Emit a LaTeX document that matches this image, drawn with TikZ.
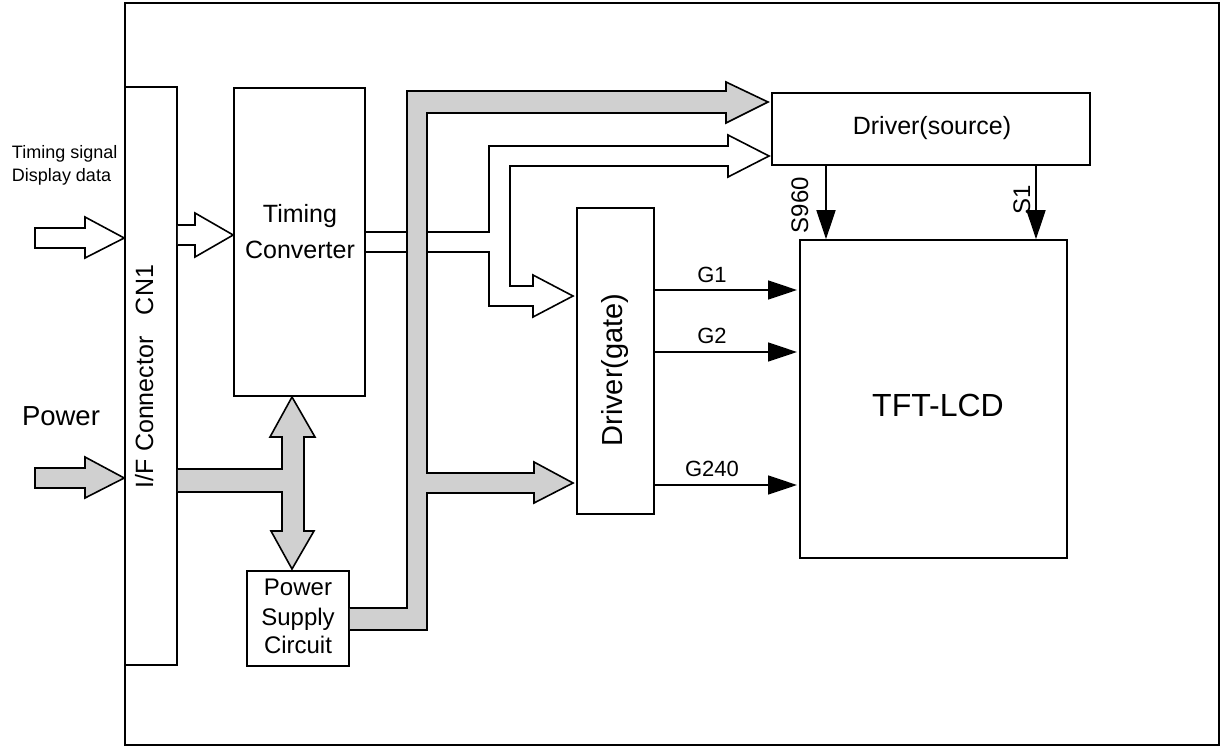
\documentclass[tikz,border=0pt]{standalone}
\usepackage{fontspec}
\setmainfont{Liberation Sans}
\usetikzlibrary{arrows.meta}
\definecolor{busgray}{RGB}{208,208,208}
\newcommand{\fsz}[2]{\fontsize{#1pt}{#2pt}\selectfont}
\tikzset{
  frame/.style={draw, line width=1.1pt},
  box/.style={draw, line width=1.6pt, inner sep=0pt, fill=white},
  bus/.style={fill=busgray, draw, line width=1.6pt, line join=miter},
  hollow/.style={fill=white, draw, line width=1.6pt, line join=miter},
  openline/.style={draw, line width=1.6pt, line join=miter},
  sig/.style={draw, line width=1.6pt, -{Triangle[length=29pt,width=19pt]}},
  txt/.style={inner sep=0pt, outer sep=0pt},
}
\begin{document}
\begin{tikzpicture}[x=1pt,y=-1pt]
\useasboundingbox (0,0) rectangle (1221,747);
% outer frame
\draw[frame] (125,3) rectangle (1219,745);
% boxes
\node[box, minimum width=52pt, minimum height=578pt] (ifc) at (151,376) {};
\node[box, minimum width=131pt, minimum height=308pt] (tc) at (299.5,242) {};
\node[box, minimum width=102pt, minimum height=95pt] (psc) at (298,618.5) {};
\node[box, minimum width=77pt, minimum height=306pt] (gate) at (615.5,361) {};
\node[box, minimum width=318pt, minimum height=72pt] (src) at (931,129) {};
\node[box, minimum width=267pt, minimum height=318pt] (tft) at (933.5,399) {};
% texts
\node[txt, anchor=base west] (t1) at (12,158) {\fsz{18}{22}Timing signal};
\node[txt, anchor=base west] (t2) at (12,181) {\fsz{18}{22}Display data};
\node[txt, anchor=base west] (pw) at (22,425) {\fsz{27.5}{32}Power};
\node[txt, anchor=base west, rotate=90] (ift) at (153,488) {\fsz{25}{30}I/F Connector};
\node[txt, anchor=base east, rotate=90] (cn1) at (153,265) {\fsz{25}{30}CN1};
\node[txt, anchor=base] (tc1) at (300,222) {\fsz{25}{30}Timing};
\node[txt, anchor=base] (tc2) at (300,258) {\fsz{25}{30}Converter};
\node[txt, anchor=base] (ps1) at (298,595) {\fsz{24}{29}Power};
\node[txt, anchor=base] (ps2) at (298,625) {\fsz{24}{29}Supply};
\node[txt, anchor=base] (ps3) at (298,653) {\fsz{24}{29}Circuit};
\node[txt, anchor=base] (srct) at (932,134) {\fsz{25}{30}Driver(source)};
\node[txt, rotate=90] (gatet) at (615,370) {\fsz{29}{34}Driver(gate)};
\node[txt] (tftt) at (938,405) {\fsz{32}{38}TFT-LCD};
\node[txt, anchor=base] (g1) at (712,282) {\fsz{22}{26}G1};
\node[txt, anchor=base] (g2) at (712,343) {\fsz{22}{26}G2};
\node[txt, anchor=base] (g240) at (712,476) {\fsz{22}{26}G240};
\node[txt, anchor=base, rotate=90] (s960) at (808,205) {\fsz{24}{28}S960};
\node[txt, anchor=base, rotate=90] (s1) at (1030,200) {\fsz{24}{28}S1};
% hollow input arrows
\draw[hollow] (35,228) -- (85,228) -- (85,217) -- (ifc.west |- 0,238) -- (85,258) -- (85,248) -- (35,248) -- cycle;
\draw[hollow] (ifc.east |- 0,225) -- (195,225) -- (195,213) -- (tc.west |- 0,235) -- (195,257) -- (195,245) -- (ifc.east |- 0,245);
% hollow signal lines to source and gate drivers
\draw[openline] (tc.east |- 0,232) -- (489,232) -- (489,146) -- (728,146) -- (728,135) -- (769,156) -- (728,177) -- (728,166) -- (510,166) -- (510,286) -- (533,286) -- (533,275) -- (573,296) -- (533,317) -- (533,306) -- (489,306) -- (489,252) -- (tc.east |- 0,252);
% power input arrow
\draw[bus] (35,468) -- (85,468) -- (85,457) -- (ifc.west |- 0,478) -- (85,498) -- (85,488) -- (35,488) -- cycle;
% power T with double arrow
\draw[bus] (ifc.east |- 0,469) -- (282,469) -- (282,437) -- (270,437) -- (292,397) -- (315,437) -- (304,437) -- (304,531) -- (314,531) -- (292,569) -- (271,531) -- (282,531) -- (282,492) -- (ifc.east |- 0,492);
% bus from power supply
\draw[bus] (psc.east |- 0,630) -- (427,630) -- (427,493) -- (534,493) -- (534,503) -- (573,483) -- (534,462) -- (534,473) -- (427,473) -- (427,113) -- (726,113) -- (726,123) -- (768,102) -- (726,82) -- (726,91) -- (407,91) -- (407,608) -- (psc.east |- 0,608);
% gate outputs
\draw[sig] (gate.east |- 0,290) -- (797,290);
\draw[sig] (gate.east |- 0,352) -- (797,352);
\draw[sig] (gate.east |- 0,485) -- (797,485);
% source outputs
\draw[sig] (826,0 |- src.south) -- (826,0 |- tft.north);
\draw[sig] (1036,0 |- src.south) -- (1036,0 |- tft.north);
\end{tikzpicture}
\end{document}
